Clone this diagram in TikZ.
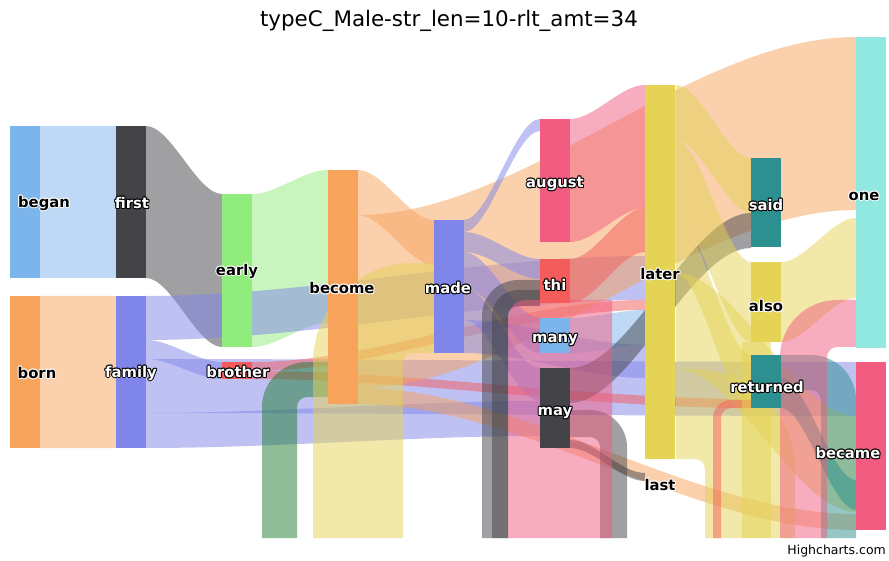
\documentclass[tikz,border=0pt]{standalone}
\usepackage{fontspec}
\setmainfont{DejaVu Sans}
\definecolor{cBlue}{HTML}{7CB5EC}
\definecolor{cDark}{HTML}{434348}
\definecolor{cGreen}{HTML}{90ED7D}
\definecolor{cOrange}{HTML}{F7A35C}
\definecolor{cPurple}{HTML}{8085E9}
\definecolor{cPink}{HTML}{F15C80}
\definecolor{cYellow}{HTML}{E4D354}
\definecolor{cTeal}{HTML}{2B908F}
\definecolor{cRed}{HTML}{F45B5B}
\definecolor{cCyan}{HTML}{91E8E1}
\definecolor{cLoopG}{RGB}{30,125,50}
\newcommand{\hc}[3]{\rlap{\hspace*{#1}\raisebox{#2}{#3}}}
\newcommand{\halo}[3]{{\color{#1}\hc{-1pt}{0pt}{#3}\hc{1pt}{0pt}{#3}\hc{0pt}{1pt}{#3}\hc{0pt}{-1pt}{#3}\hc{-.7pt}{-.7pt}{#3}\hc{.7pt}{.7pt}{#3}\hc{-.7pt}{.7pt}{#3}\hc{.7pt}{-.7pt}{#3}}{\color{#2}#3}}
% forward band: x0, y0a, y0b, x1, y1a, y1b, colour
\newcommand{\band}[7]{\fill[#7,link] (#1,#2) .. controls ({#1+0.33*(#4-#1)},#2) and ({#4-0.33*(#4-#1)},#5) .. (#4,#5) -- (#4,#6) .. controls ({#4-0.33*(#4-#1)},#6) and ({#1+0.33*(#4-#1)},#3) .. (#1,#3) -- cycle;}
% loop piece entering a target from below: xt, c, d, vx1, vx2, colour
\newcommand{\looptarget}[6]{\fill[#6,link] (#4,538) -- ({#4},{#2+10+(#5-#4)}) .. controls ({#4},{#2+0.45*(10+(#5-#4))}) and ({#4+0.45*(10+(#5-#4))},#2) .. ({#4+10+(#5-#4)},#2) -- (#1,#2) -- (#1,#3) -- ({#5+10},#3) .. controls ({#5+4.5},#3) and (#5,{#3+4.5}) .. (#5,{#3+10}) -- (#5,538) -- cycle;}
% loop piece leaving a source downwards: xs, a, b, vx1, vx2, colour
\newcommand{\loopsource}[6]{\fill[#6,link] (#1,#2) -- ({#5-10-(#5-#4)},#2) .. controls ({#5-0.45*(10+(#5-#4))},#2) and (#5,{#2+0.45*(10+(#5-#4))}) .. (#5,{#2+10+(#5-#4)}) -- (#5,538) -- (#4,538) -- (#4,{#3+10}) .. controls (#4,{#3+4.5}) and ({#4-4.5},#3) .. ({#4-10},#3) -- (#1,#3) -- cycle;}
\tikzset{
  link/.style={opacity=0.5},
  nd/.style={draw=none, inner sep=0pt, outer sep=0pt, minimum width=30pt, anchor=north west},
  lbl/.style={font=\fontsize{14.8}{17}\selectfont\bfseries, inner sep=0pt, anchor=center}
}
\begin{document}
\begin{tikzpicture}[x=1pt,y=-1pt]
\useasboundingbox[fill=white] (0,0) rectangle (889,561);
% ---------- links ----------
\band{40}{126}{278}{116}{126}{278}{cBlue}
\band{40}{296}{448}{116}{296}{448}{cOrange}
\band{146}{126}{278}{222}{194}{347}{cDark}
\band{252}{194}{347}{328}{170}{323}{cGreen}
\band{146}{296}{340}{645}{256}{300}{cPurple}
\band{146}{340}{359}{222}{362}{379}{cPurple}
\band{146}{359}{413}{856}{362}{416}{cPurple}
\band{146}{413}{448}{540}{401}{436}{cPurple}
\band{252}{362}{371}{645}{300}{310}{cRed}
\band{252}{371}{379}{751}{399}{408}{cRed}
\band{358}{170}{215}{434}{220}{265}{cOrange}
\band{358}{215}{388}{856}{37}{210}{cOrange}
\band{358}{388}{404}{856}{514}{530}{cOrange}
\band{464}{220}{232}{540}{119}{131}{cPurple}
\band{464}{232}{252}{540}{259}{279}{cPurple}
\band{464}{252}{287}{540}{318}{353}{cPurple}
\band{464}{287}{320}{540}{368}{401}{cPurple}
\band{464}{320}{353}{645}{345}{378}{cPurple}
\band{570}{119}{242}{645}{85}{208}{cPink}
\band{570}{259}{303}{645}{208}{252}{cRed}
\band{570}{318}{353}{645}{310}{345}{cBlue}
\band{570}{368}{403}{751}{213}{248}{cDark}
\band{570}{440}{448}{645}{473}{481}{cDark}
\band{676}{85}{140}{751}{158}{213}{cYellow}
\band{676}{140}{220}{751}{262}{342}{cYellow}
\band{676}{220}{273}{751}{355}{408}{cYellow}
\band{676}{273}{369}{856}{416}{512}{cYellow}
\band{781}{262}{342}{856}{218}{298}{cYellow}
\band{781}{378}{408}{856}{480}{510}{cTeal}
% ---------- loops (backward links, clipped at the plot bottom) ----------
\looptarget{328}{362}{397}{262}{297}{cLoopG}
\loopsource{781}{355}{390}{821}{856}{cTeal}
\looptarget{434}{263}{353}{313}{403}{cYellow}
\loopsource{676}{369}{459}{705}{795}{cYellow}
\looptarget{540}{280}{306}{482}{508}{cDark}
\looptarget{540}{290}{306}{492}{508}{cDark}
\loopsource{570}{410}{437}{600}{627}{cDark}
\fill[cPink,link] (508,538) -- (508,322) .. controls (508,308) and (514,300) .. (528,300) -- (612,300) -- (612,538) -- cycle;
\looptarget{856}{300}{347}{780}{827}{cPink}
\looptarget{751}{400}{408}{713}{721}{cRed}
\fill[cYellow,link] (742,342) rectangle (771,538);
% ---------- nodes ----------
\node[nd, fill=cBlue,   minimum height=152pt] (began)    at (10,126) {};
\node[nd, fill=cOrange, minimum height=152pt] (born)     at (10,296) {};
\node[nd, fill=cDark,   minimum height=152pt] (first)    at (116,126) {};
\node[nd, fill=cPurple, minimum height=152pt] (family)   at (116,296) {};
\node[nd, fill=cGreen,  minimum height=153pt] (early)    at (222,194) {};
\node[nd, fill=cRed,    minimum height=17pt]  (brother)  at (222,362) {};
\node[nd, fill=cOrange, minimum height=234pt] (become)   at (328,170) {};
\node[nd, fill=cPurple, minimum height=133pt] (made)     at (434,220) {};
\node[nd, fill=cPink,   minimum height=123pt] (august)   at (540,119) {};
\node[nd, fill=cRed,    minimum height=44pt]  (thi)      at (540,259) {};
\node[nd, fill=cBlue,   minimum height=35pt]  (many)     at (540,318) {};
\node[nd, fill=cDark,   minimum height=80pt]  (may)      at (540,368) {};
\node[nd, fill=cYellow, minimum height=374pt] (later)    at (645,85) {};
\node[nd, fill=cTeal,   minimum height=89pt]  (said)     at (751,158) {};
\node[nd, fill=cYellow, minimum height=80pt]  (also)     at (751,262) {};
\node[nd, fill=cTeal,   minimum height=53pt]  (returned) at (751,355) {};
\node[nd, fill=cCyan,   minimum height=311pt] (one)      at (856,37) {};
\node[nd, fill=cPink,   minimum height=168pt] (became)  at (856,362) {};
% ---------- labels ----------
\node[lbl] (lbegan)    at (44,203)  {\halo{white}{black}{began}};
\node[lbl] (lborn)     at (37,373)  {\halo{white}{black}{born}};
\node[lbl] (lfirst)    at (132,203) {\halo{black}{white}{first}};
\node[lbl] (lfamily)   at (131,373) {\halo{black}{white}{family}};
\node[lbl] (learly)    at (237,271) {\halo{white}{black}{early}};
\node[lbl] (lbrother)  at (238,372) {\halo{black}{white}{brother}};
\node[lbl] (lbecome)   at (342,288) {\halo{white}{black}{become}};
\node[lbl] (lmade)     at (448,288) {\halo{black}{white}{made}};
\node[lbl] (laugust)   at (555,184) {\halo{black}{white}{august}};
\node[lbl] (lthi)      at (555,285) {\halo{black}{white}{thi}};
\node[lbl] (lmany)     at (555,340) {\halo{black}{white}{many}};
\node[lbl] (lmay)      at (555,413) {\halo{black}{white}{may}};
\node[lbl] (llater)    at (660,274) {\halo{white}{black}{later}};
\node[lbl] (llast)     at (660,485) {\halo{white}{black}{last}};
\node[lbl] (lsaid)     at (766,205) {\halo{black}{white}{said}};
\node[lbl] (lalso)     at (766,306) {\halo{white}{black}{also}};
\node[lbl] (lreturned) at (767,387) {\halo{black}{white}{returned}};
\node[lbl] (lone)      at (864,196) {\halo{white}{black}{one}};
\node[lbl] (lbecame)   at (848,453) {\halo{black}{white}{became}};
% ---------- title and credit ----------
\node[font=\fontsize{21.4}{25}\selectfont, inner sep=0pt, anchor=base] (title) at (449,27) {typeC\_Male-str\_len=10-rlt\_amt=34};
\node[font=\fontsize{12.5}{15}\selectfont, inner sep=0pt, anchor=base east] (credit) at (886,554) {Highcharts.com};
\end{tikzpicture}
\end{document}
